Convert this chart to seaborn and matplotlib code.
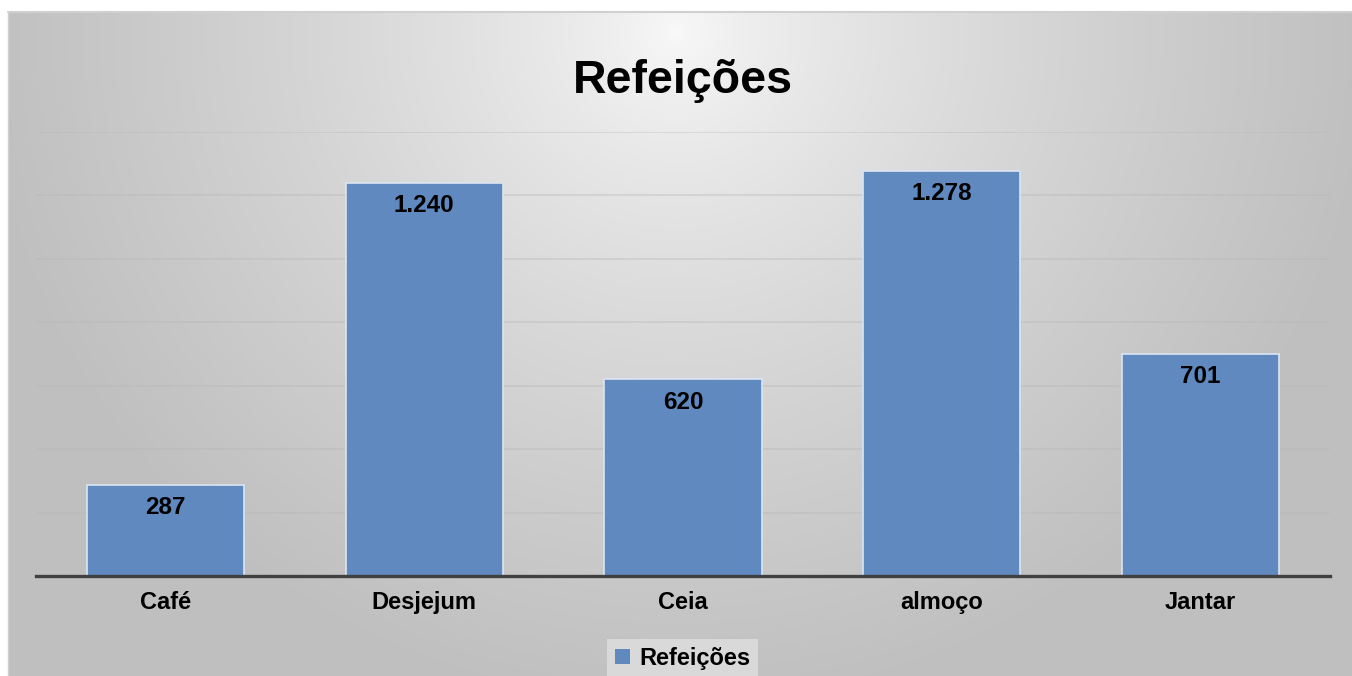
import numpy as np
import pandas as pd
import matplotlib
matplotlib.use("Agg")
import matplotlib.pyplot as plt
import seaborn as sns

# Meal counts
categories = ["Café", "Desjejum", "Ceia", "almoço", "Jantar"]
values = [287, 1240, 620, 1278, 701]
series_name = "Refeições"
title = "Refeições"

df = pd.DataFrame({"categoria": categories, "valor": values})

sns.set_style("white")
plt.rcParams["font.family"] = ["Liberation Sans", "DejaVu Sans"]

W, H, DPI = 1352, 676, 100
fig = plt.figure(figsize=(W / DPI, H / DPI), dpi=DPI)
fig.patch.set_facecolor("white")

# Chart area with a radial grey gradient, lighter at the top centre
cx0, cy0 = 8, 12
bg = fig.add_axes([cx0 / W, 0, 1 - cx0 / W, 1 - cy0 / H], zorder=-10)
gw, gh = W - cx0, H - cy0
yy, xx = np.mgrid[0:gh, 0:gw]
r = np.sqrt(((xx - (676 - cx0)) / 700.0) ** 2 + ((yy - 20) / 680.0) ** 2)
t = np.clip(r, 0, 1) ** 0.75
light, dark = 0.975, 0.75
shade = light - (light - dark) * t
bg.imshow(np.dstack([shade, shade, shade]), aspect="auto", interpolation="bilinear")
bg.set_axis_off()
fig.add_artist(plt.Line2D([cx0 / W, 1], [1 - cy0 / H, 1 - cy0 / H],
                          transform=fig.transFigure, color="#d0d0d0", lw=1.5))
fig.add_artist(plt.Line2D([cx0 / W, cx0 / W], [0, 1 - cy0 / H],
                          transform=fig.transFigure, color="#d0d0d0", lw=1.0))

# Plot area
left, right = 36 / W, 1330 / W
bottom, top = 1 - 576 / H, 1 - 132 / H
ax = fig.add_axes([left, bottom, right - left, top - bottom])
ax.set_facecolor("none")

sns.barplot(data=df, x="categoria", y="valor", ax=ax, color="#6089bf",
            width=0.607, edgecolor="#dbe5f1", linewidth=1.2,
            saturation=1, label=series_name, zorder=3)

ax.set_ylim(0, 1400)
ax.set_xlim(-0.5, len(categories) - 0.5)
ax.set_yticks(np.arange(0, 1401, 200))
ax.yaxis.grid(True, color="#b8b8b8", alpha=0.45, lw=1.2, zorder=0)
ax.set_axisbelow(True)
ax.tick_params(axis="y", left=False, labelleft=False)
ax.tick_params(axis="x", bottom=False, pad=7)
ax.set_xlabel("")
ax.set_ylabel("")
for s in ["left", "right", "top"]:
    ax.spines[s].set_visible(False)
ax.spines["bottom"].set_color("#404040")
ax.spines["bottom"].set_linewidth(2.4)
ax.spines["bottom"].set_zorder(5)
for lbl in ax.get_xticklabels():
    lbl.set_fontsize(17)
    lbl.set_fontweight("bold")
    lbl.set_color("black")

# Data labels inside the top of each bar
for i, v in enumerate(values):
    txt = f"{v:,}".replace(",", ".")
    ax.annotate(txt, (i, v), xytext=(0, -16.5), textcoords="offset points",
                ha="center", va="center", fontsize=17.5, fontweight="bold",
                color="black", zorder=6)

fig.text(0.5048, 1 - 81 / H, title, ha="center", va="center",
         fontsize=33.5, fontweight="bold", color="black")

leg = ax.legend(loc="upper center", bbox_to_anchor=(0.505, 1 - 639 / H),
                bbox_transform=fig.transFigure, fontsize=17, frameon=True,
                fancybox=False, handlelength=0.6, handleheight=0.6,
                handletextpad=0.4, borderpad=0.35, borderaxespad=0)
leg.get_frame().set_facecolor("#d9d9d9")
leg.get_frame().set_edgecolor("none")
leg.get_frame().set_alpha(1)
for txt in leg.get_texts():
    txt.set_fontweight("bold")
    txt.set_color("black")
for h in leg.legend_handles:
    h.set_edgecolor("none")

fig.savefig("out.png", dpi=DPI)
